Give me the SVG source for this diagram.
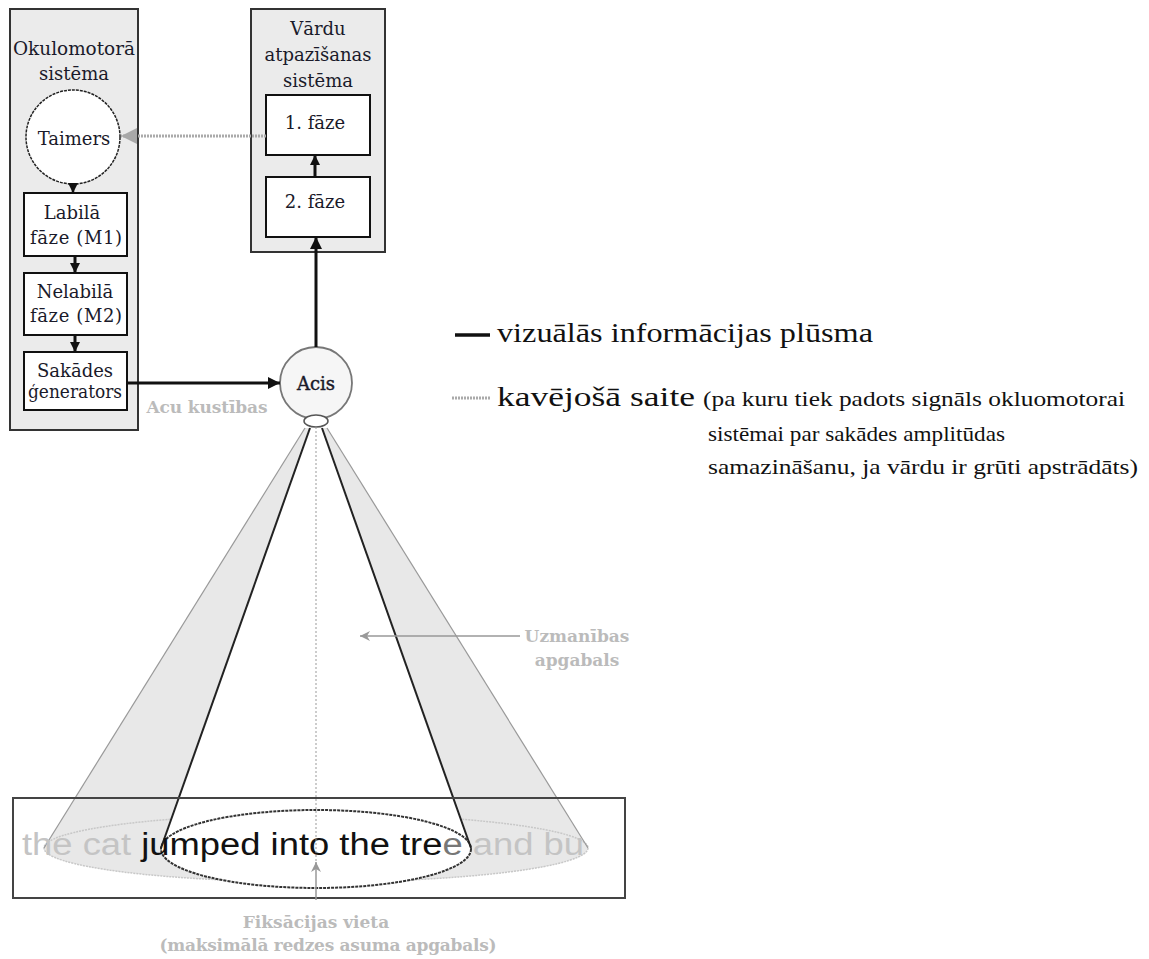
<svg xmlns="http://www.w3.org/2000/svg" width="1149" height="959" viewBox="0 0 1149 959">
<defs>
<style>
.sys{fill:#ebebeb;stroke:#333;stroke-width:2}
.box{fill:#fff;stroke:#111;stroke-width:2}
.t{font-family:"DejaVu Serif","Liberation Serif",serif;font-size:18px;fill:#1a1a2a;text-anchor:middle}
.g{font-family:"DejaVu Serif","Liberation Serif",serif;font-size:17px;font-weight:bold;fill:#bbbbbb;text-anchor:middle}
.lg{font-family:"Liberation Serif","Times New Roman",serif;fill:#111}
.flow{stroke:#111;stroke-width:3;fill:none}
</style>
<marker id="ab" viewBox="0 0 10 10" refX="10" refY="5" markerWidth="12" markerHeight="12" markerUnits="userSpaceOnUse" orient="auto"><path d="M0,0 L10,5 L0,10 z" fill="#111"/></marker>
<marker id="abs" viewBox="0 0 10 10" refX="10" refY="5" markerWidth="10" markerHeight="10" markerUnits="userSpaceOnUse" orient="auto"><path d="M0,0 L10,5 L0,10 z" fill="#111"/></marker>
<marker id="ag" viewBox="0 0 10 10" refX="10" refY="5" markerWidth="16" markerHeight="16" markerUnits="userSpaceOnUse" orient="auto"><path d="M0,0 L10,5 L0,10 z" fill="#a8a8a8"/></marker>
<marker id="agl" viewBox="0 0 10 10" refX="10" refY="5" markerWidth="10" markerHeight="10" markerUnits="userSpaceOnUse" orient="auto"><path d="M0,0 L10,5 L0,10 L3,5 z" fill="#999"/></marker>
</defs>
<rect width="1149" height="959" fill="#fff"/>

<!-- cone / attention field -->
<g id="cone">
<path d="M305,428 L44,848 A272,34 0 0 0 588,848 L327,428 Z" fill="#e8e8e8" stroke="none"/>
<ellipse cx="316" cy="848" rx="272" ry="34" fill="#e8e8e8" stroke="#c8c8c8" stroke-width="1.5" stroke-dasharray="2 1"/>
<line x1="305" y1="428" x2="44" y2="848" stroke="#999" stroke-width="1.2"/>
<line x1="327" y1="428" x2="588" y2="848" stroke="#999" stroke-width="1.2"/>
<path d="M310,428 L161,848 A155,38 0 0 0 471,848 L322,428 Z" fill="#fff"/>
<ellipse cx="316" cy="849" rx="155" ry="39" fill="#fff" stroke="#333" stroke-width="2" stroke-dasharray="3 1"/>
<line x1="310" y1="428" x2="161" y2="848" stroke="#222" stroke-width="2"/>
<line x1="322" y1="428" x2="471" y2="848" stroke="#222" stroke-width="2"/>
</g>

<g id="text-strip">
<rect x="13" y="798" width="612" height="100" fill="none" stroke="#444" stroke-width="2"/>
<text x="22" y="855" font-family="Liberation Sans, Arial, sans-serif" font-size="31" textLength="562" lengthAdjust="spacingAndGlyphs"><tspan fill="#c4c4c4">the cat </tspan><tspan fill="#111">jumped into the tre</tspan><tspan fill="#777">e</tspan><tspan fill="#c4c4c4"> and bu</tspan></text>
</g>

<!-- left system -->
<g id="okulomotora">
<rect class="sys" x="10" y="9" width="128" height="421"/>
<text class="t" x="74" y="55" font-size="19.5" textLength="122" lengthAdjust="spacingAndGlyphs">Okulomotorā</text>
<text class="t" x="74" y="80" font-size="19.5">sistēma</text>
</g>
<g id="taimers">
<circle cx="73" cy="137" r="47" fill="#fff" stroke="#222" stroke-width="1.5" stroke-dasharray="3 1"/>
<text class="t" x="74" y="145" font-size="20">Taimers</text>
</g>
<g id="labila">
<rect class="box" x="24" y="193" width="103" height="63"/>
<text class="t" x="72" y="219">Labilā</text>
<text class="t" x="76" y="244" textLength="92">fāze (M1)</text>
</g>
<g id="nelabila">
<rect class="box" x="24" y="273" width="103" height="62"/>
<text class="t" x="75" y="298">Nelabilā</text>
<text class="t" x="76" y="322" textLength="92">fāze (M2)</text>
</g>
<g id="sakades">
<rect class="box" x="24" y="352" width="103" height="58"/>
<text class="t" x="75" y="377">Sakādes</text>
<text class="t" x="75" y="398" textLength="94" lengthAdjust="spacingAndGlyphs">ģenerators</text>
</g>

<!-- right system -->
<g id="vardu">
<rect class="sys" x="251" y="9" width="134" height="243"/>
<text class="t" x="318" y="35" font-size="19">Vārdu</text>
<text class="t" x="318" y="61" font-size="19">atpazīšanas</text>
<text class="t" x="318" y="87" font-size="19">sistēma</text>
</g>
<g id="faze1">
<rect class="box" x="266" y="95" width="104" height="60"/>
<text class="t" x="315" y="129">1. fāze</text>
</g>
<g id="faze2">
<rect class="box" x="266" y="177" width="104" height="60"/>
<text class="t" x="315" y="208">2. fāze</text>
</g>

<g id="acis">
<circle cx="316" cy="383" r="36" fill="#f6f6f6" stroke="#777" stroke-width="1.8"/>
<ellipse cx="316" cy="421" rx="12" ry="6" fill="#fff" stroke="#555" stroke-width="1.5"/>
<text class="t" x="316" y="390" font-size="18" stroke="#1a1a2a" stroke-width="0.4">Acis</text>
</g>

<!-- connectors -->
<g id="connectors">
<line x1="73" y1="184" x2="73" y2="193" stroke="#111" stroke-width="2.5" marker-end="url(#abs)"/>
<line x1="75" y1="256" x2="75" y2="273" stroke="#111" stroke-width="3" marker-end="url(#abs)"/>
<line x1="75" y1="335" x2="75" y2="352" stroke="#111" stroke-width="3" marker-end="url(#abs)"/>
<line x1="315" y1="177" x2="315" y2="155" stroke="#111" stroke-width="3" marker-end="url(#abs)"/>
<line x1="316" y1="347" x2="316" y2="237" class="flow" marker-end="url(#ab)"/>
<line x1="127" y1="383" x2="280" y2="383" class="flow" marker-end="url(#ab)"/>
<line x1="266" y1="136" x2="121" y2="136" stroke="#aaa" stroke-width="3" stroke-dasharray="2 1" marker-end="url(#ag)"/>
<line x1="316" y1="427" x2="316" y2="870" stroke="#999" stroke-width="1" stroke-dasharray="2 2"/>
<line x1="316" y1="900" x2="316" y2="862" stroke="#999" stroke-width="1.5" marker-end="url(#agl)"/>
<line x1="520" y1="636" x2="360" y2="636" stroke="#999" stroke-width="1.5" marker-end="url(#agl)"/>
</g>

<g id="labels">
<text class="g" x="207" y="413" textLength="121">Acu kustības</text>
<text class="g" x="577" y="642">Uzmanības</text>
<text class="g" x="577" y="666">apgabals</text>
<text class="g" x="316" y="928">Fiksācijas vieta</text>
<text class="g" x="328" y="951" textLength="337">(maksimālā redzes asuma apgabals)</text>
</g>

<g id="legend">
<line x1="455" y1="335" x2="490" y2="335" stroke="#111" stroke-width="3.5"/>
<text class="lg" x="497" y="342" font-size="28" textLength="376" lengthAdjust="spacingAndGlyphs">vizuālās informācijas plūsma</text>
<line x1="452" y1="398" x2="490" y2="398" stroke="#aaa" stroke-width="3" stroke-dasharray="2 1"/>
<text class="lg" x="497" y="406" font-size="28" textLength="198" lengthAdjust="spacingAndGlyphs">kavējošā saite</text>
<text class="lg" x="703" y="406" font-size="21" textLength="422" lengthAdjust="spacingAndGlyphs">(pa kuru tiek padots signāls okluomotorai</text>
<text class="lg" x="708" y="441" font-size="21" textLength="297" lengthAdjust="spacingAndGlyphs">sistēmai par sakādes amplitūdas</text>
<text class="lg" x="708" y="474" font-size="21" textLength="430" lengthAdjust="spacingAndGlyphs">samazināšanu, ja vārdu ir grūti apstrādāts)</text>
</g>
</svg>
